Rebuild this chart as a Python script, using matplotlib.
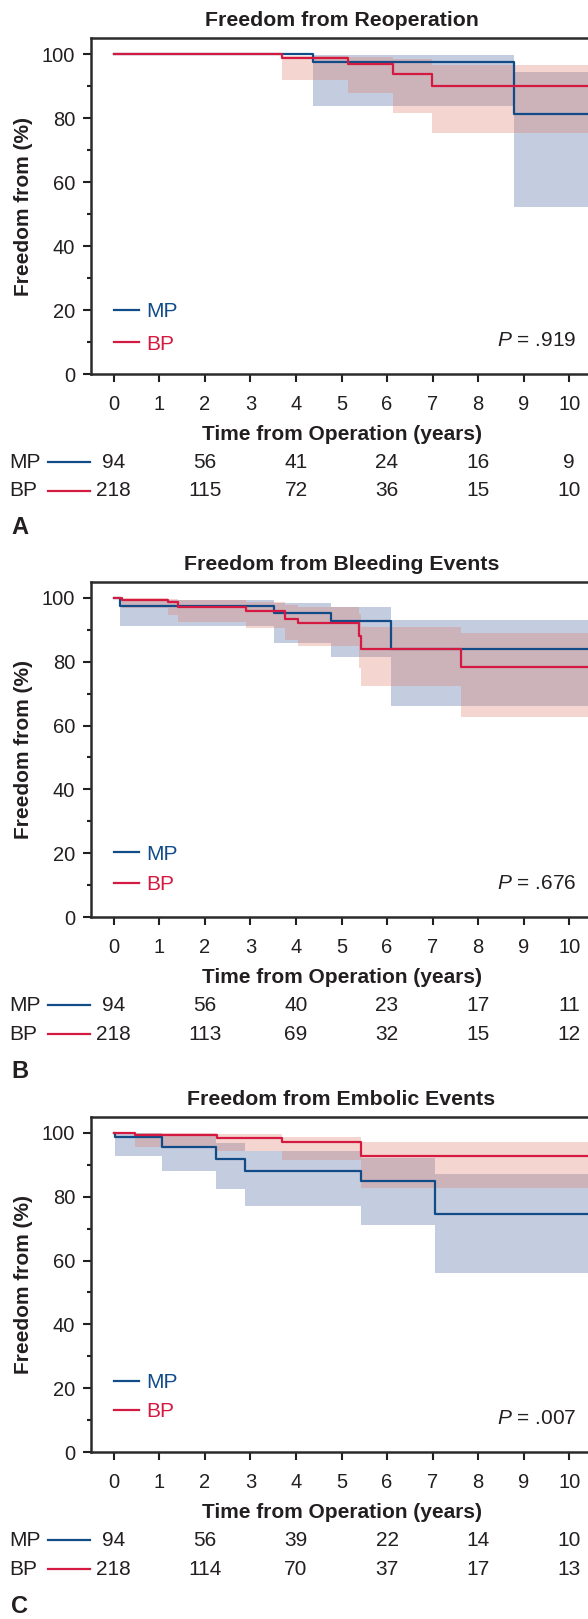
import numpy as np
import matplotlib.pyplot as plt
from matplotlib.lines import Line2D
from matplotlib.transforms import blended_transform_factory

plt.rcParams['font.family'] = ['Liberation Sans', 'DejaVu Sans']
plt.rcParams['mathtext.fontset'] = 'custom'
plt.rcParams['mathtext.it'] = 'Liberation Sans:italic'
plt.rcParams['mathtext.rm'] = 'Liberation Sans'

INK = '#231f20'
BLUE = '#114c88'
RED = '#d41a40'
BLUE_FILL = '#3e5898'
RED_FILL = '#e17662'

# --- data ---
years = list(range(0, 11))
risk_years = [0, 2, 4, 6, 8, 10]

titles = ['Freedom from Reoperation', 'Freedom from Bleeding Events', 'Freedom from Embolic Events']
p_values = ['.919', '.676', '.007']
letters = ['A', 'B', 'C']

# A: reoperation
a_mp_t = [0, 4.38, 8.78]
a_mp_s = [100, 97.4, 81.2]
a_mp_lo = [100, 83.8, 52.3]
a_mp_hi = [100, 99.6, 94.4]
a_bp_t = [0, 3.70, 5.15, 6.13, 6.98]
a_bp_s = [100, 98.6, 96.8, 93.9, 90.1]
a_bp_lo = [100, 91.9, 87.8, 81.7, 75.3]
a_bp_hi = [100, 99.3, 99.0, 98.3, 96.6]
a_risk_mp = [94, 56, 41, 24, 16, 9]
a_risk_bp = [218, 115, 72, 36, 15, 10]

# B: bleeding
b_mp_t = [0, 0.14, 3.52, 4.77, 6.08]
b_mp_s = [100, 97.5, 95.4, 92.8, 84.0]
b_mp_lo = [100, 91.1, 86.0, 81.4, 66.1]
b_mp_hi = [100, 99.5, 98.5, 97.3, 93.1]
b_bp_t = [0, 0.18, 1.19, 1.42, 2.91, 3.75, 4.05, 5.38, 5.43, 7.63]
b_bp_s = [100, 99.4, 98.6, 97.1, 95.9, 93.5, 92.1, 88.1, 84.0, 78.5]
b_bp_lo = [100, 97.0, 94.8, 92.5, 90.7, 86.9, 84.8, 78.0, 72.3, 62.7]
b_bp_hi = [100, 99.9, 99.7, 99.3, 98.7, 97.8, 97.1, 95.0, 90.8, 89.0]
b_risk_mp = [94, 56, 40, 23, 17, 11]
b_risk_bp = [218, 113, 69, 32, 15, 12]

# C: embolic
c_mp_t = [0, 0.03, 1.06, 2.24, 2.88, 5.43, 7.06]
c_mp_s = [100, 98.8, 95.7, 91.9, 88.1, 84.8, 74.6]
c_mp_lo = [100, 92.7, 88.0, 82.3, 77.1, 71.2, 56.1]
c_mp_hi = [100, 99.9, 98.9, 96.8, 94.4, 92.3, 87.2]
c_bp_t = [0, 0.46, 2.26, 3.70, 5.43]
c_bp_s = [100, 99.4, 98.3, 97.2, 92.8]
c_bp_lo = [100, 95.6, 94.3, 91.6, 82.8]
c_bp_hi = [100, 100, 99.6, 98.8, 97.2]
c_risk_mp = [94, 56, 39, 22, 14, 10]
c_risk_bp = [218, 114, 70, 37, 17, 13]

panels = [
    (a_mp_t, a_mp_s, a_mp_lo, a_mp_hi, a_bp_t, a_bp_s, a_bp_lo, a_bp_hi, a_risk_mp, a_risk_bp),
    (b_mp_t, b_mp_s, b_mp_lo, b_mp_hi, b_bp_t, b_bp_s, b_bp_lo, b_bp_hi, b_risk_mp, b_risk_bp),
    (c_mp_t, c_mp_s, c_mp_lo, c_mp_hi, c_bp_t, c_bp_s, c_bp_lo, c_bp_hi, c_risk_mp, c_risk_bp),
]

# layout in pixels (figure is 588 x 1619)
W, H = 588, 1619
ax_left, ax_right = 91, 592
ax_tops = [38, 582, 1117]
ax_bottoms = [374, 917, 1452]
legend_tops = [0.214, 0.216, 0.236]
legend_gaps = [0.65, 0.55, 0.5]
XMAX = 10.5

fig = plt.figure(figsize=(W / 100, H / 100), dpi=100)
fs = 15


def km(ax, t, s, lo, hi, fill_color):
    t = np.append(t, XMAX)
    ax.fill_between(t, np.append(lo, lo[-1]), np.append(hi, hi[-1]), step='post',
                    color=fill_color, alpha=0.3, linewidth=0)
    return t


for i, (mt, ms, mlo, mhi, bt, bs, blo, bhi, rmp, rbp) in enumerate(panels):
    top, bot = ax_tops[i], ax_bottoms[i]
    ax = fig.add_axes([ax_left / W, 1 - bot / H, (ax_right - ax_left) / W, (bot - top) / H])
    tm = km(ax, mt, ms, mlo, mhi, BLUE_FILL)
    tb = km(ax, bt, bs, blo, bhi, RED_FILL)
    ax.step(tm, np.append(ms, ms[-1]), where='post', color=BLUE, lw=1.6)
    ax.step(tb, np.append(bs, bs[-1]), where='post', color=RED, lw=1.6)

    ax.set_xlim(-0.5, XMAX)
    ax.set_ylim(0, 105)
    ax.set_xticks(years)
    ax.set_yticks([0, 20, 40, 60, 80, 100])
    ax.set_yticks([10, 30, 50, 70, 90], minor=True)
    ax.tick_params(axis='both', which='major', labelsize=14.5, colors=INK, length=6, width=1.5,
                   direction='out')
    ax.tick_params(axis='x', pad=9)
    ax.tick_params(axis='y', pad=5.5)
    ax.tick_params(axis='y', which='minor', length=3, width=1.5, colors=INK)
    for sp in ax.spines.values():
        sp.set_linewidth(1.8)
        sp.set_color('#2b2b2b')

    ax.set_title(titles[i], fontsize=15.3, fontweight='bold', color=INK, pad=9)
    ax.set_ylabel('Freedom from (%)', fontsize=fs, fontweight='bold', color=INK, labelpad=6)
    ax.set_xlabel('Time from Operation (years)', fontsize=fs, fontweight='bold', color=INK, labelpad=8)

    handles = [Line2D([], [], color=BLUE, lw=1.6), Line2D([], [], color=RED, lw=1.6)]
    ax.legend(handles, ['MP', 'BP'], loc='upper left', bbox_to_anchor=(0.045, legend_tops[i]),
              frameon=False, fontsize=fs, handlelength=1.2, handletextpad=0.35,
              labelspacing=legend_gaps[i], borderpad=0, borderaxespad=0, labelcolor=[BLUE, RED])
    ax.text(0.968, 10.5, r'$P$ = ' + p_values[i], transform=blended_transform_factory(ax.transAxes, ax.transData),
            ha='right', va='center', fontsize=fs, color=INK)

    # numbers at risk
    h = bot - top
    tr = blended_transform_factory(ax.transData, ax.transAxes)
    trf = blended_transform_factory(fig.transFigure, ax.transAxes)
    for row, (name, vals, col) in enumerate([('MP', rmp, BLUE), ('BP', rbp, RED)]):
        yy = -(88 + 29 * row) / h
        for x, v in zip(risk_years, vals):
            ax.text(x, yy, str(v), transform=tr, ha='center', va='center', fontsize=fs, color=INK,
                    clip_on=False)
        fig.text(9 / W, yy, name, transform=trf, ha='left', va='center', fontsize=fs, color=INK)
        fig.add_artist(Line2D([48 / W, 90 / W], [yy, yy], transform=trf, color=col, lw=1.6))

    fig.text(11 / W, 1 - (bot + 154) / H, letters[i], ha='left', va='center', fontsize=17,
             fontweight='bold', color=INK)

fig.savefig('out.png', dpi=100)
